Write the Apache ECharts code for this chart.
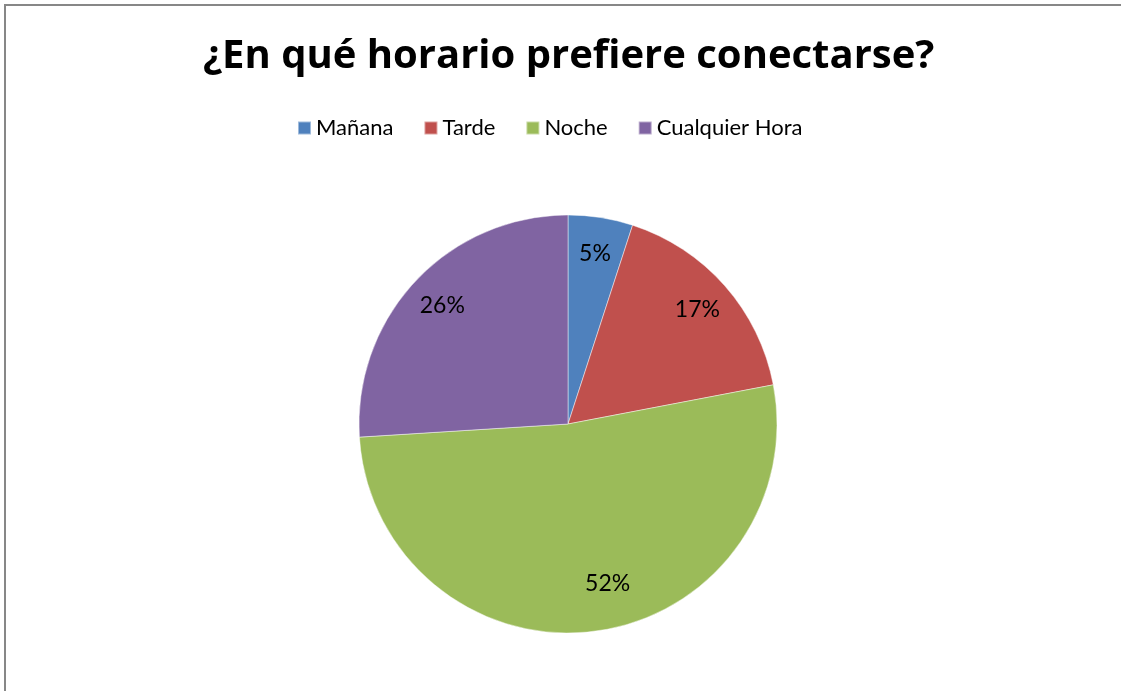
<!DOCTYPE html>
<html>
<head>
<meta charset="utf-8">
<script src="https://cdn.jsdelivr.net/npm/echarts@6/dist/echarts.min.js"></script>
<style>
  html, body { margin: 0; padding: 0; background: #fff; overflow: hidden; }
  #frame { position: absolute; left: 4px; top: 4px; right: 0; bottom: 0; border-left: 2px solid #878787; border-top: 2px solid #878787; }
  #chart { width: 1121px; height: 691px; position: absolute; left: 0; top: 0; }
</style>
</head>
<body>
<div id="frame"></div>
<div id="chart"></div>
<script>
  // datos del gráfico
  var categorias = ['Mañana', 'Tarde', 'Noche', 'Cualquier Hora'];
  var porcentajes = [5, 17, 52, 26];
  var colores = ['#4F81BD', '#C0504D', '#9BBB59', '#8064A2'];

  var datos = [];
  for (var i = 0; i < categorias.length; i++) {
    datos.push({ name: categorias[i], value: porcentajes[i] });
  }
  // etiquetas: Noche va un poco desplazada como en el original
  var datosEtiquetas = datos.map(function (d, i) {
    var item = { name: d.name, value: d.value };
    if (i === 2) item.label = { offset: [18, -12] };
    return item;
  });

  var myChart = echarts.init(document.getElementById('chart'));
  var option = {
    animation: false,
    color: colores,
    title: {
      text: '¿En qué horario prefiere conectarse?',
      left: 198,
      top: 32,
      textStyle: { fontFamily: 'Open Sans', fontWeight: 'bold', fontSize: 40, color: '#000' }
    },
    legend: {
      top: 112,
      left: 292,
      data: categorias,
      icon: 'rect',
      itemWidth: 13,
      itemHeight: 13,
      itemGap: 30,
      textStyle: { fontFamily: 'Lato', fontSize: 22, color: '#000' }
    },
    series: [{
      name: 'horario',
      type: 'pie',
      center: [568, 424],
      radius: [0, 209],
      startAngle: 90,
      clockwise: true,
      silent: true,
      data: datos,
      label: { show: false },
      labelLine: { show: false },
      itemStyle: { borderColor: 'rgba(255,255,255,0.45)', borderWidth: 1 }
    }, {
      // anillo invisible solo para colocar las etiquetas cerca del borde
      name: 'etiquetas',
      type: 'pie',
      center: [568, 424],
      radius: [130, 209],
      startAngle: 90,
      clockwise: true,
      silent: true,
      data: datosEtiquetas,
      itemStyle: { color: 'rgba(0,0,0,0)' },
      label: {
        show: true,
        position: 'inside',
        formatter: '{c}%',
        fontFamily: 'Lato',
        fontSize: 23,
        color: '#000'
      },
      labelLine: { show: false }
    }]
  };
  myChart.setOption(option);
</script>
</body>
</html>
